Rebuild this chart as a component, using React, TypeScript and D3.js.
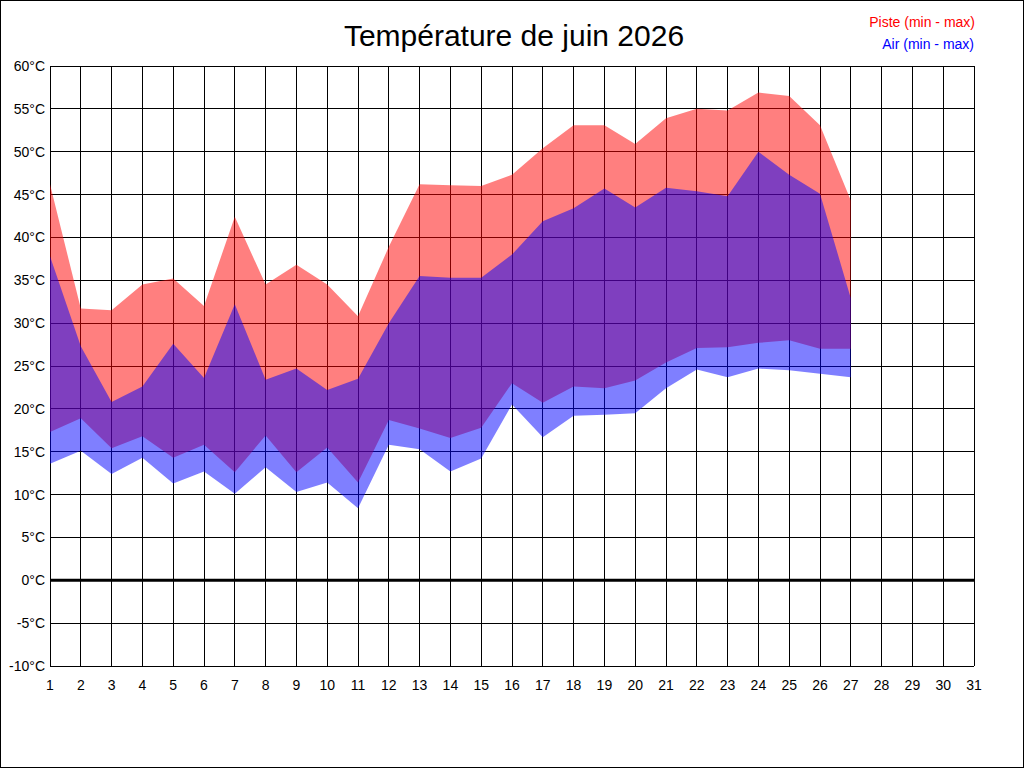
import React, { useEffect, useRef } from "react";
import * as d3 from "d3";

// days of the month (tick labels on the x axis)
const days = d3.range(1, 32);
// y tick values in °C
const yTicks = [-10, -5, 0, 5, 10, 15, 20, 25, 30, 35, 40, 45, 50, 55, 60];

// track (piste) temperatures, days 1..27
const pisteMax = [46.2, 31.7, 31.5, 34.5, 35.2, 32.0, 42.4, 34.5, 36.8, 34.5, 30.8, 38.9, 46.2, 46.1, 46.0, 47.3, 50.4, 53.1, 53.1, 50.9, 53.9, 55.0, 54.8, 56.9, 56.5, 53.1, 44.3];
const pisteMin = [17.3, 18.9, 15.4, 16.8, 14.3, 15.8, 12.6, 16.9, 12.6, 15.5, 11.4, 18.7, 17.7, 16.6, 17.8, 23.0, 20.7, 22.6, 22.4, 23.3, 25.4, 27.1, 27.2, 27.7, 28.0, 27.0, 27.0];
// air temperatures, days 1..27
const airMax = [37.8, 27.3, 20.8, 22.6, 27.6, 23.6, 32.2, 23.4, 24.7, 22.2, 23.5, 30.0, 35.5, 35.3, 35.3, 38.0, 41.9, 43.4, 45.7, 43.5, 45.8, 45.4, 44.8, 50.0, 47.3, 45.1, 32.9];
const airMin = [13.6, 15.1, 12.4, 14.3, 11.3, 12.7, 10.1, 13.2, 10.3, 11.4, 8.4, 15.8, 15.3, 12.7, 14.2, 20.5, 16.7, 19.2, 19.3, 19.5, 22.4, 24.6, 23.7, 24.7, 24.5, 24.1, 23.7];

const title = "Température de juin 2026";

type Pt = { day: number; lo: number; hi: number };

const App: React.FC = () => {
  const svgRef = useRef<SVGSVGElement | null>(null);

  useEffect(() => {
    const svg = d3.select(svgRef.current);
    svg.selectAll("*").remove();

    const w = 1024;
    const h = 768;
    const font = "'Liberation Sans', Arial, sans-serif";

    const x = d3.scaleLinear().domain([1, 31]).range([50, 974]);
    const y = d3.scaleLinear().domain([-10, 60]).range([666, 66]);

    svg.attr("width", w).attr("height", h).style("background", "#fff");

    // outer frame
    svg.append("rect")
      .attr("x", 0.5).attr("y", 0.5)
      .attr("width", w - 1).attr("height", h - 1)
      .attr("fill", "#fff").attr("stroke", "#000");

    // grid
    const grid = svg.append("g").attr("shape-rendering", "crispEdges");
    grid.selectAll(".vline")
      .data(days)
      .enter()
      .append("line")
      .attr("x1", d => x(d)).attr("x2", d => x(d))
      .attr("y1", y(60)).attr("y2", y(-10))
      .attr("stroke", "#000").attr("stroke-width", 1);
    grid.selectAll(".hline")
      .data(yTicks)
      .enter()
      .append("line")
      .attr("x1", x(1)).attr("x2", x(31))
      .attr("y1", d => y(d)).attr("y2", d => y(d))
      .attr("stroke", "#000").attr("stroke-width", 1);

    // bands: piste first, air on top
    const area = d3.area<Pt>()
      .x(d => x(d.day))
      .y0(d => y(d.lo))
      .y1(d => y(d.hi));

    const piste: Pt[] = pisteMax.map((v, i) => ({ day: i + 1, lo: pisteMin[i], hi: v }));
    const air: Pt[] = airMax.map((v, i) => ({ day: i + 1, lo: airMin[i], hi: v }));

    svg.append("path")
      .datum(piste)
      .attr("d", area)
      .attr("fill", "rgba(255, 0, 0, 0.5)");

    svg.append("path")
      .datum(air)
      .attr("d", area)
      .attr("fill", "rgba(0, 0, 255, 0.5)");

    // zero line
    svg.append("line")
      .attr("x1", x(1)).attr("x2", x(31))
      .attr("y1", y(0)).attr("y2", y(0))
      .attr("stroke", "#000").attr("stroke-width", 3);

    // y labels
    svg.selectAll(".ylab")
      .data(yTicks)
      .enter()
      .append("text")
      .attr("x", 45)
      .attr("y", d => y(d))
      .attr("dy", "0.36em")
      .attr("text-anchor", "end")
      .style("font-family", font)
      .style("font-size", "14px")
      .style("fill", "#000")
      .text(d => `${d}°C`);

    // x labels
    svg.selectAll(".xlab")
      .data(days)
      .enter()
      .append("text")
      .attr("x", d => x(d))
      .attr("y", 690)
      .attr("text-anchor", "middle")
      .style("font-family", font)
      .style("font-size", "14px")
      .style("fill", "#000")
      .text(d => d);

    // title
    svg.append("text")
      .attr("x", 514)
      .attr("y", 46)
      .attr("text-anchor", "middle")
      .style("font-family", font)
      .style("font-size", "30px")
      .style("fill", "#000")
      .text(title);

    // legend
    svg.append("text")
      .attr("x", 975).attr("y", 27)
      .attr("text-anchor", "end")
      .style("font-family", font)
      .style("font-size", "14px")
      .style("fill", "#ff0000")
      .text("Piste (min - max)");

    svg.append("text")
      .attr("x", 974).attr("y", 49)
      .attr("text-anchor", "end")
      .style("font-family", font)
      .style("font-size", "14px")
      .style("fill", "#0000ff")
      .text("Air (min - max)");
  }, []);

  return (
    <div style={{ position: "absolute", left: 0, top: 0 }}>
      <svg ref={svgRef} style={{ display: "block" }}></svg>
    </div>
  );
};

export default App;
